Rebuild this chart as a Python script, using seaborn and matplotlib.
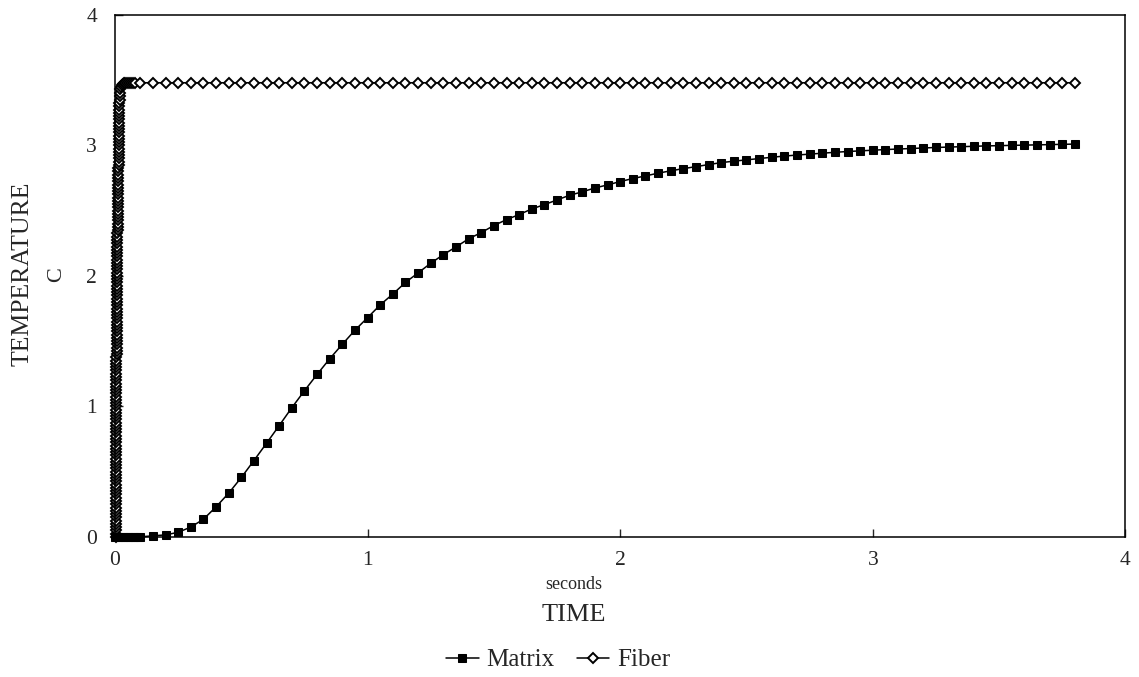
import matplotlib
matplotlib.use("Agg")
import matplotlib.pyplot as plt
import seaborn as sns
import pandas as pd

# Matrix temperature
matrix_time = [0.00, 0.01, 0.02, 0.03, 0.04, 0.05, 0.06, 0.07, 0.08, 0.09, 0.10,
               0.15, 0.20, 0.25, 0.30, 0.35, 0.40, 0.45, 0.50, 0.55, 0.60,
               0.65, 0.70, 0.75, 0.80, 0.85, 0.90, 0.95, 1.00, 1.05, 1.10,
               1.15, 1.20, 1.25, 1.30, 1.35, 1.40, 1.45, 1.50, 1.55, 1.60,
               1.65, 1.70, 1.75, 1.80, 1.85, 1.90, 1.95, 2.00, 2.05, 2.10,
               2.15, 2.20, 2.25, 2.30, 2.35, 2.40, 2.45, 2.50, 2.55, 2.60,
               2.65, 2.70, 2.75, 2.80, 2.85, 2.90, 2.95, 3.00, 3.05, 3.10,
               3.15, 3.20, 3.25, 3.30, 3.35, 3.40, 3.45, 3.50, 3.55, 3.60,
               3.65, 3.70, 3.75, 3.80]
matrix_temp = [0.0, 0.0, 0.0, 0.0, 0.0, 0.0, 0.0, 0.0, 0.0, 0.0, 0.0,
               0.008, 0.015, 0.035, 0.075, 0.135, 0.230, 0.335, 0.455, 0.585, 0.718,
               0.853, 0.990, 1.120, 1.245, 1.365, 1.476, 1.584, 1.680, 1.778, 1.861,
               1.950, 2.023, 2.097, 2.163, 2.222, 2.284, 2.332, 2.386, 2.431, 2.470,
               2.513, 2.546, 2.582, 2.618, 2.644, 2.674, 2.697, 2.723, 2.746, 2.766,
               2.787, 2.805, 2.822, 2.837, 2.853, 2.868, 2.879, 2.889, 2.899, 2.909,
               2.918, 2.926, 2.933, 2.940, 2.947, 2.953, 2.958, 2.963, 2.968, 2.972,
               2.976, 2.980, 2.984, 2.987, 2.990, 2.993, 2.996, 2.998, 3.000, 3.002,
               3.004, 3.006, 3.008, 3.010]

# Fiber temperature: near-vertical rise right after t=0 ...
fiber_rise_time = [
    0.00300, 0.00305, 0.00310, 0.00315, 0.00320, 0.00325, 0.00330, 0.00335, 0.00340, 0.00345,
    0.00350, 0.00355, 0.00360, 0.00365, 0.00370, 0.00375, 0.00380, 0.00385, 0.00390, 0.00395,
    0.00400, 0.00405, 0.00410, 0.00415, 0.00420, 0.00425, 0.00430, 0.00435, 0.00440, 0.00445,
    0.00450, 0.00455, 0.00460, 0.00465, 0.00470, 0.00475, 0.00480, 0.00485, 0.00490, 0.00495,
    0.00500, 0.00505, 0.00510, 0.00515, 0.00520, 0.00525, 0.00530, 0.00535, 0.00540, 0.00545,
    0.00550, 0.00555, 0.00560, 0.00565, 0.00570, 0.00575, 0.00580, 0.00585, 0.00590, 0.00595,
    0.00600, 0.00605, 0.00610, 0.00615, 0.00620, 0.00625, 0.00630, 0.00635, 0.00640, 0.00645,
    0.00650, 0.00655, 0.00660, 0.00665, 0.00670, 0.00675, 0.00680, 0.00685, 0.00690, 0.00695,
    0.00700,
    0.0072, 0.0074, 0.0076, 0.0078, 0.0080, 0.0082, 0.0084, 0.0086, 0.0088, 0.0090,
    0.0092, 0.0094, 0.0096, 0.0098, 0.0100, 0.0102, 0.0104, 0.0106, 0.0108, 0.0110,
    0.0112, 0.0114, 0.0116, 0.0118, 0.0120, 0.0122, 0.0124, 0.0126, 0.0128, 0.0130,
    0.0132, 0.0134, 0.0136, 0.0138, 0.0140, 0.0142, 0.0144, 0.0146, 0.0148, 0.0150,
    0.0152, 0.0154, 0.0156, 0.0158, 0.0160, 0.0162, 0.0164, 0.0166, 0.0168, 0.0170,
    0.0172, 0.0174, 0.0176, 0.0178, 0.0180, 0.0182,
    0.020, 0.023, 0.026, 0.030, 0.035, 0.040, 0.047, 0.055, 0.063, 0.072, 0.080]
fiber_rise_temp = [
    0.000, 0.025, 0.050, 0.075, 0.100, 0.125, 0.150, 0.175, 0.200, 0.225,
    0.250, 0.275, 0.300, 0.325, 0.350, 0.375, 0.400, 0.425, 0.450, 0.475,
    0.500, 0.525, 0.550, 0.575, 0.600, 0.625, 0.650, 0.675, 0.700, 0.725,
    0.750, 0.775, 0.800, 0.825, 0.850, 0.875, 0.900, 0.925, 0.950, 0.975,
    1.000, 1.025, 1.050, 1.075, 1.100, 1.125, 1.150, 1.175, 1.200, 1.225,
    1.250, 1.275, 1.300, 1.325, 1.350, 1.375, 1.400, 1.425, 1.450, 1.475,
    1.500, 1.525, 1.550, 1.575, 1.600, 1.625, 1.650, 1.675, 1.700, 1.725,
    1.750, 1.775, 1.800, 1.825, 1.850, 1.875, 1.900, 1.925, 1.950, 1.975,
    2.000,
    2.025, 2.050, 2.075, 2.100, 2.125, 2.150, 2.175, 2.200, 2.225, 2.250,
    2.275, 2.300, 2.325, 2.350, 2.375, 2.400, 2.425, 2.450, 2.475, 2.500,
    2.525, 2.550, 2.575, 2.600, 2.625, 2.650, 2.675, 2.700, 2.725, 2.750,
    2.775, 2.800, 2.825, 2.850, 2.875, 2.900, 2.925, 2.950, 2.975, 3.000,
    3.025, 3.050, 3.075, 3.100, 3.125, 3.150, 3.175, 3.200, 3.225, 3.250,
    3.275, 3.300, 3.325, 3.350, 3.375, 3.400,
    3.430, 3.450, 3.460, 3.470, 3.475, 3.480, 3.480, 3.480, 3.480, 3.480, 3.480]

# ... then flat at ~3.48
fiber_flat_time = [0.10, 0.15, 0.20, 0.25, 0.30, 0.35, 0.40, 0.45, 0.50, 0.55, 0.60,
                   0.65, 0.70, 0.75, 0.80, 0.85, 0.90, 0.95, 1.00, 1.05, 1.10,
                   1.15, 1.20, 1.25, 1.30, 1.35, 1.40, 1.45, 1.50, 1.55, 1.60,
                   1.65, 1.70, 1.75, 1.80, 1.85, 1.90, 1.95, 2.00, 2.05, 2.10,
                   2.15, 2.20, 2.25, 2.30, 2.35, 2.40, 2.45, 2.50, 2.55, 2.60,
                   2.65, 2.70, 2.75, 2.80, 2.85, 2.90, 2.95, 3.00, 3.05, 3.10,
                   3.15, 3.20, 3.25, 3.30, 3.35, 3.40, 3.45, 3.50, 3.55, 3.60,
                   3.65, 3.70, 3.75, 3.80]
fiber_flat_level = 3.48

axis_ticks = [0, 1, 2, 3, 4]

df_matrix = pd.DataFrame({"time": matrix_time, "temp": matrix_temp})
df_fiber = pd.DataFrame({
    "time": fiber_rise_time + fiber_flat_time,
    "temp": fiber_rise_temp + [fiber_flat_level] * len(fiber_flat_time),
})

sns.set_style("ticks")
plt.rcParams["font.family"] = ["Liberation Serif", "DejaVu Serif"]

fig = plt.figure(figsize=(11.39, 6.77), dpi=100)
ax = fig.add_axes([0.101, 0.207, 0.887, 0.771])

sns.lineplot(data=df_fiber, x="time", y="temp", ax=ax, estimator=None, sort=False,
             color="black", linewidth=1.1, marker="D", markersize=5.5,
             markerfacecolor="white", markeredgecolor="black", markeredgewidth=1.4,
             label="Fiber", clip_on=False)
sns.lineplot(data=df_matrix, x="time", y="temp", ax=ax, estimator=None, sort=False,
             color="black", linewidth=1.1, marker="s", markersize=5.5,
             markerfacecolor="black", markeredgecolor="black", label="Matrix",
             clip_on=False)

ax.set_xlim(0, 4)
ax.set_ylim(0, 4)
ax.set_xticks(axis_ticks)
ax.set_yticks(axis_ticks)
ax.tick_params(direction="in", length=6, width=1, labelsize=15.5)
ax.tick_params(axis="y", pad=13)
ax.tick_params(axis="x", pad=10)
for sp in ax.spines.values():
    sp.set_linewidth(1.1)
    sp.set_color("black")
ax.set_xlabel("")
ax.set_ylabel("")

fig.text(0.020, 0.595, "TEMPERATURE", rotation=90, ha="center", va="center", fontsize=18.5)
fig.text(0.050, 0.595, "C", rotation=90, ha="center", va="center", fontsize=16)
fig.text(0.504, 0.137, "seconds", ha="center", va="center", fontsize=13)
fig.text(0.504, 0.092, "TIME", ha="center", va="center", fontsize=19)

handles, labels = ax.get_legend_handles_labels()
ax.get_legend().remove()
order = [labels.index("Matrix"), labels.index("Fiber")]
fig.legend([handles[i] for i in order], [labels[i] for i in order],
           loc="center", bbox_to_anchor=(0.49, 0.025), ncol=2, frameon=False,
           fontsize=18, handlelength=1.3, handletextpad=0.3, columnspacing=0.9)

fig.savefig("out.png", dpi=100)
plt.close(fig)
